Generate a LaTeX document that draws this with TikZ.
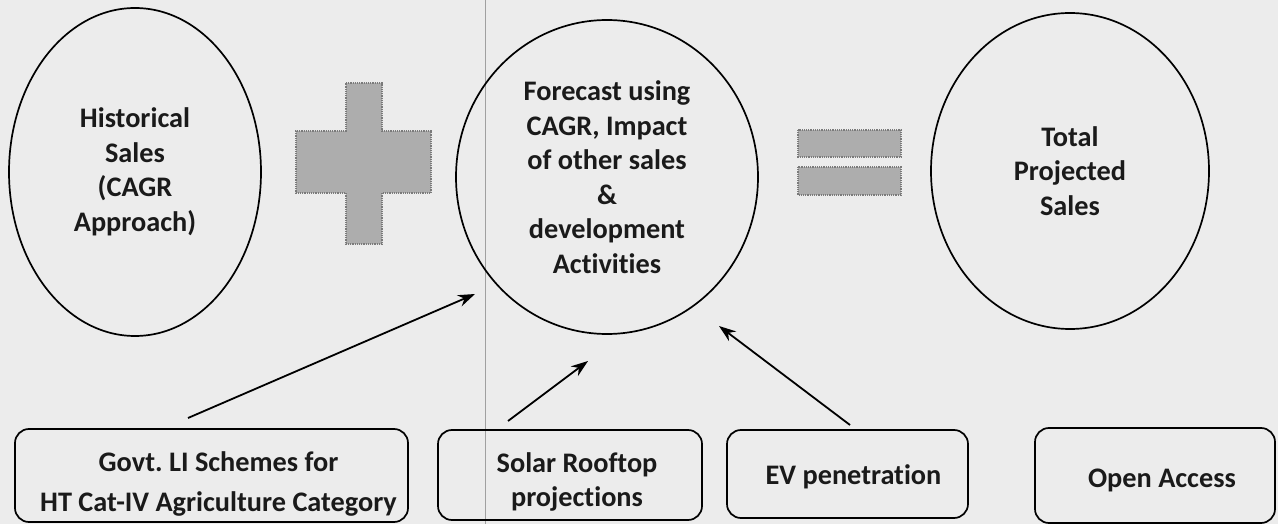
\documentclass[tikz,border=0pt]{standalone}
\usepackage{fontspec}
\setmainfont{Carlito}[Ligatures=NoCommon]
\frenchspacing
\usetikzlibrary{shapes.geometric,arrows.meta}
\definecolor{bg}{HTML}{ECECEC}
\definecolor{txt}{HTML}{1A1A1A}
\definecolor{symfill}{HTML}{ADADAD}
\definecolor{symedge}{HTML}{7A7A7A}
\definecolor{fold}{HTML}{A0A0A0}
\begin{document}
\begin{tikzpicture}[x=1pt,y=-1pt,
  lbl/.style={font=\bfseries\fontsize{28.3}{34.5}\selectfont, text=txt, align=center, inner sep=0pt},
  bubble/.style={lbl, draw=black, line width=1.7pt, ellipse, inner sep=0pt},
  srcbox/.style={draw=black, line width=1.7pt, rounded corners=14pt, inner sep=0pt},
  arr/.style={draw=black, line width=1.8pt, -{Stealth[length=17pt,width=12pt]}},
  sym/.style={fill=symfill, draw=symedge, densely dotted, line width=1.2pt}
]
\fill[bg] (0,0) rectangle (1278,524);
\useasboundingbox (0,0) rectangle (1278,524);
\draw[fold, line width=0.8pt] (485,0) -- (485,524);

% ellipses
\node[bubble, minimum width=252pt, minimum height=328pt] (hist) at (135,172)
  {Historical\\Sales\\(CAGR\\Approach)};
\node[bubble, minimum width=302pt, minimum height=314pt] (fore) at (607,177)
  {Forecast using\\CAGR, Impact\\of other sales\\\&\\development\\Activities};
\node[bubble, minimum width=278pt, minimum height=316pt] (total) at (1070,171)
  {Total\\Projected\\Sales};

% plus and equals signs
\path[sym] (346,83) -- (382,83) -- (382,131) -- (431,131) -- (431,193) -- (382,193)
  -- (382,244) -- (346,244) -- (346,193) -- (296,193) -- (296,131) -- (346,131) -- cycle;
\path[sym] (798,130) rectangle (901,157);
\path[sym] (798,167) rectangle (901,195);

% bottom boxes
\node[srcbox, minimum width=393pt, minimum height=93pt,
  label={[lbl, font=\bfseries\fontsize{28.3}{40}\selectfont, xshift=7pt, yshift=-8.5pt]center:{Govt. LI Schemes for\\HT Cat-IV Agriculture Category}}]
  (govt) at (211.5,475.5) {};
\node[srcbox, minimum width=264pt, minimum height=90pt,
  label={[lbl, xshift=7pt, yshift=-7pt]center:{Solar Rooftop\\projections}}]
  (solar) at (570,475) {};
\node[srcbox, minimum width=241pt, minimum height=88pt,
  label={[lbl, xshift=6pt, yshift=-3pt]center:{EV penetration}}]
  (ev) at (847.5,474) {};
\node[srcbox, minimum width=240pt, minimum height=95pt,
  label={[lbl, xshift=7pt, yshift=-5pt]center:{Open Access}}]
  (oa) at (1155,475.5) {};

% arrow ends
\coordinate (govtout) at (188,418);
\coordinate (govtin) at (475,294);
\coordinate (solarout) at (508,421);
\coordinate (solarin) at (588,361);
\coordinate (evout) at (850,425);
\coordinate (evin) at (719,326);
\draw[arr] (govtout) -- (govtin);
\draw[arr] (solarout) -- (solarin);
\draw[arr] (evout) -- (evin);
\end{tikzpicture}
\end{document}
